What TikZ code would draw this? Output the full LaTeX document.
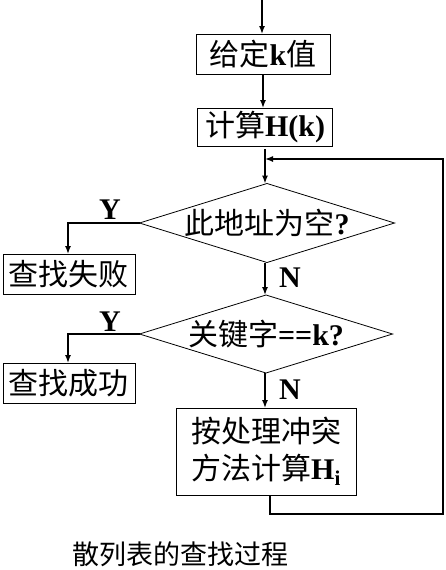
\documentclass[tikz,border=0pt]{standalone}
\usepackage{fontspec}
\setmainfont{Liberation Serif}
\newfontfamily\cjk{Noto Sans CJK SC}
\usetikzlibrary{shapes.geometric,arrows.meta}
\newcommand\cj[1]{{\cjk #1}}
\begin{document}
\begin{tikzpicture}[x=1pt,y=-1pt,
  box/.style={draw,line width=1pt,inner sep=0pt,outer sep=0pt,font=\fontsize{30}{37}\selectfont,align=center},
  dia/.style={draw,line width=0.8pt,shape=diamond,inner sep=0pt,outer sep=0pt},
  txt/.style={inner sep=0pt,font=\fontsize{30}{37}\selectfont},
  yn/.style={inner sep=0pt,font=\fontsize{30}{34}\selectfont\bfseries},
  arr/.style={line width=1.4pt,-{Latex[length=8pt,width=6pt]}},
  ln/.style={line width=1.4pt}]
\useasboundingbox (0,0) rectangle (445,570);
\coordinate (top) at (262,0);
\node[box,minimum width=134pt,minimum height=40pt] (b1) at (263,54) {\cj{给定}\textbf{k}\cj{值}};
\node[box,minimum width=135pt,minimum height=38pt] (b2) at (265,127) {\cj{计算}\textbf{H(k)}};
\node[dia,minimum width=255pt,minimum height=79pt] (d1) at (267,223) {};
\node[txt] (d1t) at (d1) {\cj{此地址为空}\textbf{?}};
\node[dia,minimum width=253pt,minimum height=78pt] (d2) at (266,334) {};
\node[txt] (d2t) at (d2) {\cj{关键字}\textbf{==k?}};
\node[box,minimum width=132pt,minimum height=40pt] (fail) at (69,274) {\cj{查找失败}};
\node[box,minimum width=132pt,minimum height=40pt] (succ) at (69,383) {\cj{查找成功}};
\node[box,minimum width=180pt,minimum height=87pt] (b3) at (266,451.5) {\cj{按处理冲突}\\\cj{方法计算}\textbf{H\textsubscript{i}}};
\node[yn] (y1) at (110,210) {Y};
\node[yn] (y2) at (110,322) {Y};
\node[yn] (n1) at (290,278) {N};
\node[yn] (n2) at (290,390) {N};
\node[inner sep=0pt,font=\fontsize{27}{30}\selectfont] (cap) at (180,554) {\cj{散列表的查找过程}};
\coordinate (j) at (265,159);
\coordinate (f1) at (68,223);
\coordinate (f2) at (68,334);
\coordinate (r1) at (443,514);
\coordinate (r2) at (443,159);
\coordinate (l1) at (270,514);
% connectors
\draw[arr] (top) -- (b1.north -| top);
\draw[arr] (b1.south) -- (b2.north -| b1.south);
\draw[arr] ([yshift=-3pt]b2.south) -- (d1.north -| b2.south);
\draw[arr] (d1.south -| b2.south) -- (d2.north -| b2.south);
\draw[arr] (d2.south -| b2.south) -- (b3.north -| b2.south);
\draw[arr] (d1.west) -- (f1) -- (fail.north -| f1);
\draw[arr] (d2.west) -- (f2) -- (succ.north -| f2);
\draw[arr] (b3.south -| l1) -- (l1) -- (r1) -- (r2) -- (j);
\end{tikzpicture}
\end{document}
